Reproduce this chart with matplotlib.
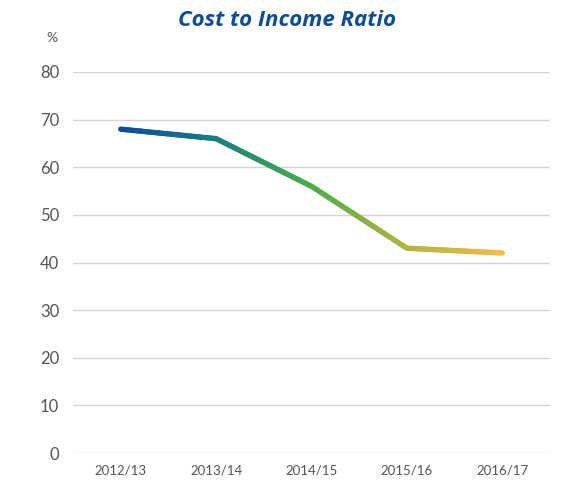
import numpy as np
import matplotlib.pyplot as plt
from matplotlib.collections import LineCollection
from matplotlib.colors import LinearSegmentedColormap

years = ['2012/13', '2013/14', '2014/15', '2015/16', '2016/17']
ratio = [68, 66, 56, 43, 42]
y_ticks = [0, 10, 20, 30, 40, 50, 60, 70, 80]

plt.rcParams['font.family'] = ['Lato', 'DejaVu Sans']

fig = plt.figure(figsize=(5.66, 4.82), dpi=100)
ax = fig.add_axes([73 / 566, 1 - 453 / 482, 477 / 566, 381 / 482])

# gradient line: split each segment into small pieces for colouring
x = np.arange(len(years))
xs, ys = [], []
for i in range(len(x) - 1):
    t = np.linspace(0, 1, 40, endpoint=False)
    xs.extend(x[i] + t * (x[i + 1] - x[i]))
    ys.extend(ratio[i] + t * (ratio[i + 1] - ratio[i]))
xs.append(x[-1])
ys.append(ratio[-1])
pts = np.array([xs, ys]).T.reshape(-1, 1, 2)
segs = np.concatenate([pts[:-1], pts[1:]], axis=1)

cmap = LinearSegmentedColormap.from_list(
    'cir', [(0, '#0b4c9e'), (0.25, '#167f80'), (0.5, '#4aae48'),
            (0.75, '#b3b43f'), (1, '#f5b945')])
lc = LineCollection(segs, cmap=cmap, linewidths=3.8, capstyle='round',
                    joinstyle='round')
lc.set_array(np.linspace(0, 1, len(segs)))
ax.add_collection(lc)

ax.set_xlim(-0.5, len(years) - 0.5)
ax.set_ylim(0, 80)
ax.set_yticks(y_ticks)
ax.set_xticks(x)
ax.set_xticklabels(years)
ax.grid(axis='y', color='#d4d4d4', linewidth=1)
ax.set_axisbelow(True)
for s in ax.spines.values():
    s.set_visible(False)
ax.tick_params(length=0, colors='#555555')
ax.tick_params(axis='y', labelsize=12, pad=10)
ax.tick_params(axis='x', labelsize=9.5, pad=8)

fig.text(52 / 566, 1 - 38 / 482, '%', fontsize=10, color='#555555',
         ha='center', va='center')
fig.text(287 / 566, 1 - 20 / 482, 'Cost to Income Ratio', fontsize=16,
         fontweight='bold', fontstyle='italic', color='#0b4c9e',
         family=['Open Sans', 'DejaVu Sans'], ha='center', va='center')

fig.savefig('out.png', dpi=100)
